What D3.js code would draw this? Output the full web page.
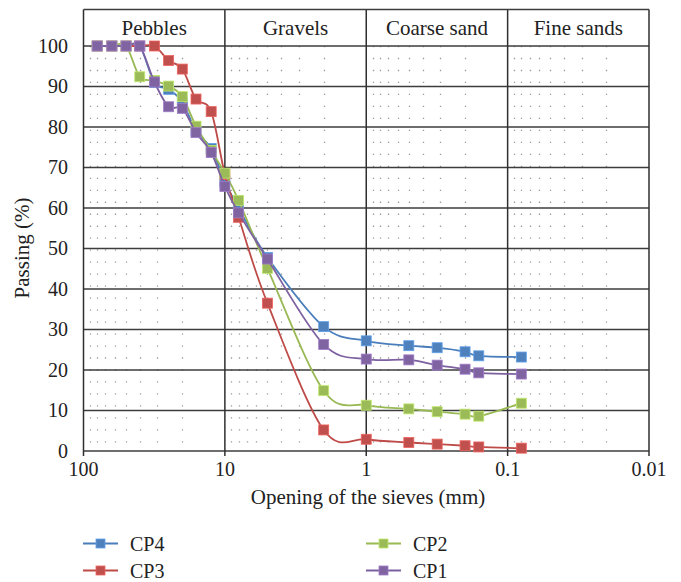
<!DOCTYPE html>
<html>
<head>
<meta charset="utf-8">
<script src="https://cdn.jsdelivr.net/npm/d3@7"></script>
<style>
  html, body { margin: 0; padding: 0; background: #fff; }
  svg { display: block; font-family: "Liberation Serif", "DejaVu Serif", serif; }
</style>
</head>
<body>
<svg id="chart" width="681" height="582"></svg>
<script>
// ---- data ----
const sieves = [80, 63, 50, 40, 31.5, 25, 20, 16, 12.5, 10, 8, 5, 2, 1, 0.5, 0.315, 0.2, 0.16, 0.08];
const cp4 = [100, 100, 100, 100, 91, 89.3, 86.2, 79, 74.7, 66.5, 60, 47.8, 30.7, 27.2, 26.0, 25.5, 24.5, 23.5, 23.2];
const cp3 = [100, 100, 100, 100, 100, 96.4, 94.3, 86.9, 83.8, 68.3, 57.7, 36.5, 5.2, 2.9, 2.1, 1.7, 1.3, 1.0, 0.7];
const cp2 = [100, 100, 100, 92.4, 91.5, 90.1, 87.5, 80.2, 74.2, 68.6, 61.9, 45.1, 14.9, 11.3, 10.4, 9.7, 9.1, 8.6, 11.8];
const cp1 = [100, 100, 100, 100, 91.1, 85, 84.6, 78.6, 73.7, 65.3, 58.8, 47.4, 26.3, 22.7, 22.5, 21.2, 20.2, 19.3, 19.0];
const seriesNames = ["CP4", "CP3", "CP2", "CP1"];
const xTicks = [100, 10, 1, 0.1, 0.01];
const xTickLabels = ["100", "10", "1", "0.1", "0.01"];
const yTicks = [0, 10, 20, 30, 40, 50, 60, 70, 80, 90, 100];
const zones = ["Pebbles", "Gravels", "Coarse sand", "Fine sands"];
const zoneBounds = [[100, 10], [10, 1], [1, 0.1], [0.1, 0.01]];

const colors = {CP4: "#4F81BD", CP3: "#C0504D", CP2: "#9BBB59", CP1: "#8064A2"};
const lineColors = {CP4: "#4A7EBB", CP3: "#BE4B48", CP2: "#98B954", CP1: "#7D60A0"};
const values = {CP4: cp4, CP3: cp3, CP2: cp2, CP1: cp1};

(function () {
// ---- layout ----
const svg = d3.select("#chart");
const pLeft = 83.5, pRight = 649, pTop = 46, pBottom = 451, headTop = 9.5;
const x = d3.scaleLog().domain([100, 0.01]).range([pLeft, pRight]);
const y = d3.scaleLinear().domain([0, 100]).range([pBottom, pTop]);

// minor dotted vertical lines
const minor = [];
[100, 10, 1, 0.1].forEach(d => { for (let k = 9; k >= 2; k--) minor.push(d / 10 * k); });
svg.append("g").selectAll("line").data(minor).join("line")
  .attr("x1", d => Math.round(x(d)) + 0.5).attr("x2", d => Math.round(x(d)) + 0.5)
  .attr("y1", pBottom).attr("y2", pTop)
  .attr("stroke", "#9a9a9a").attr("stroke-width", 1.3)
  .attr("stroke-dasharray", "1.3,10.68").attr("stroke-dashoffset", 3.5);

// horizontal major gridlines
svg.append("g").selectAll("line").data(yTicks).join("line")
  .attr("x1", pLeft).attr("x2", pRight)
  .attr("y1", d => y(d)).attr("y2", d => y(d))
  .attr("stroke", "#3c3c3c").attr("stroke-width", d => d === 0 ? 1.6 : 1.4);

// vertical decade lines (through header), with small ticks below axis
svg.append("g").selectAll("line").data(xTicks).join("line")
  .attr("x1", d => x(d)).attr("x2", d => x(d))
  .attr("y1", headTop).attr("y2", pBottom + 5)
  .attr("stroke", "#2f2f2f").attr("stroke-width", 1.5);

// header top border
svg.append("line").attr("x1", pLeft).attr("x2", pRight).attr("y1", headTop).attr("y2", headTop)
  .attr("stroke", "#3c3c3c").attr("stroke-width", 1.4);

// zone labels
svg.append("g").selectAll("text").data(zones).join("text")
  .attr("x", (d, i) => (x(zoneBounds[i][0]) + x(zoneBounds[i][1])) / 2)
  .attr("y", 35)
  .attr("text-anchor", "middle")
  .attr("font-size", 21).attr("fill", "#222")
  .text(d => d);

// y tick labels
svg.append("g").selectAll("text").data(yTicks).join("text")
  .attr("x", 68).attr("y", d => y(d) + 6.5)
  .attr("text-anchor", "end").attr("font-size", 20).attr("fill", "#222")
  .text(d => d);

// x tick labels
svg.append("g").selectAll("text").data(xTicks).join("text")
  .attr("x", d => x(d)).attr("y", 476)
  .attr("text-anchor", "middle").attr("font-size", 20).attr("fill", "#222")
  .text((d, i) => xTickLabels[i]);

// axis titles
svg.append("text").attr("x", 368).attr("y", 504).attr("text-anchor", "middle")
  .attr("font-size", 21).attr("fill", "#222").text("Opening of the sieves (mm)");
svg.append("text").attr("transform", "translate(29,248) rotate(-90)")
  .attr("text-anchor", "middle").attr("font-size", 21).attr("fill", "#222").text("Passing (%)");

// series lines and markers
const line = d3.line().x(d => x(d[0])).y(d => y(d[1])).curve(d3.curveCardinal.tension(0));
const plot = svg.append("g");
seriesNames.forEach(name => {
  const pts = sieves.map((s, i) => [s, values[name][i]]);
  const g = plot.append("g");
  g.append("path").datum(pts).attr("d", line)
    .attr("fill", "none").attr("stroke", lineColors[name]).attr("stroke-width", 1.8);
  g.selectAll("rect").data(pts).join("rect")
    .attr("x", d => x(d[0]) - 5).attr("y", d => y(d[1]) - 5)
    .attr("width", 10).attr("height", 10)
    .attr("fill", colors[name]).attr("stroke", d3.color(colors[name]).brighter(0.6)).attr("stroke-width", 0.8);
});

// legend
const legendPos = {CP4: [83, 543.5], CP3: [83, 570.5], CP2: [366, 543.5], CP1: [366, 570.5]};
seriesNames.forEach(name => {
  const [lx, ly] = legendPos[name];
  const g = svg.append("g");
  g.append("line").attr("x1", lx).attr("x2", lx + 35).attr("y1", ly).attr("y2", ly)
    .attr("stroke", lineColors[name]).attr("stroke-width", 1.8);
  g.append("rect").attr("x", lx + 17.5 - 4.5).attr("y", ly - 4.5).attr("width", 9).attr("height", 9)
    .attr("fill", colors[name]).attr("stroke", d3.color(colors[name]).brighter(0.6)).attr("stroke-width", 0.8);
  g.append("text").attr("x", lx + 47).attr("y", ly + 7).attr("font-size", 20).attr("fill", "#222").text(name);
});
})();
</script>
</body>
</html>
